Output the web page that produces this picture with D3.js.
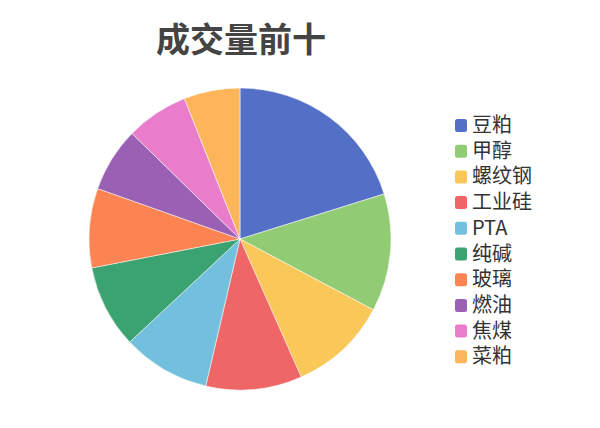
<!DOCTYPE html>
<html>
<head>
<meta charset="utf-8">
<script src="https://cdn.jsdelivr.net/npm/d3@7"></script>
<style>
  body { margin: 0; background: #fff; font-family: "Noto Sans CJK SC", "Noto Sans", sans-serif; }
</style>
</head>
<body>
<svg id="chart"></svg>
<script>
const width = 600;
const height = 428;

// top ten by trading volume (share, %)
const names = ["豆粕", "甲醇", "螺纹钢", "工业硅", "PTA", "纯碱", "玻璃", "燃油", "焦煤", "菜粕"];
const values = [20.2, 12.6, 10.6, 10.3, 9.4, 8.9, 8.5, 6.9, 6.7, 6.0];
const colors = ["#5470c6", "#91cc75", "#fac858", "#ee6666", "#73c0de",
                "#3ba272", "#fc8452", "#9a60b4", "#ea7ccc", "#fdb55c"];

const svg = d3.select("#chart")
    .attr("width", width)
    .attr("height", height);

svg.append("text")
    .attr("x", 241)
    .attr("y", 52)
    .attr("text-anchor", "middle")
    .attr("font-size", 34)
    .attr("font-weight", "bold")
    .attr("fill", "#444")
    .text("成交量前十");

const color = d3.scaleOrdinal().domain(names).range(colors);

const pie = d3.pie().sort(null).value(d => d.value);
const arc = d3.arc().innerRadius(0).outerRadius(151);

const data = names.map((n, i) => ({ name: n, value: values[i] }));

const g = svg.append("g")
    .attr("transform", "translate(240,239)");

g.selectAll("path")
    .data(pie(data))
    .enter()
    .append("path")
    .attr("d", arc)
    .attr("fill", d => color(d.data.name))
    .attr("stroke", "#fff")
    .attr("stroke-width", 0.5);

// legend
const legend = svg.append("g")
    .attr("transform", "translate(455,125)");

const item = legend.selectAll("g")
    .data(names)
    .enter()
    .append("g")
    .attr("transform", (d, i) => `translate(0,${i * 25.7})`);

item.append("rect")
    .attr("x", 0)
    .attr("y", -6)
    .attr("width", 12)
    .attr("height", 13)
    .attr("rx", 2.5)
    .attr("fill", d => color(d));

item.append("text")
    .attr("x", 17)
    .attr("y", 7)
    .attr("font-size", 20)
    .attr("fill", "#333")
    .text(d => d);
</script>
</body>
</html>
